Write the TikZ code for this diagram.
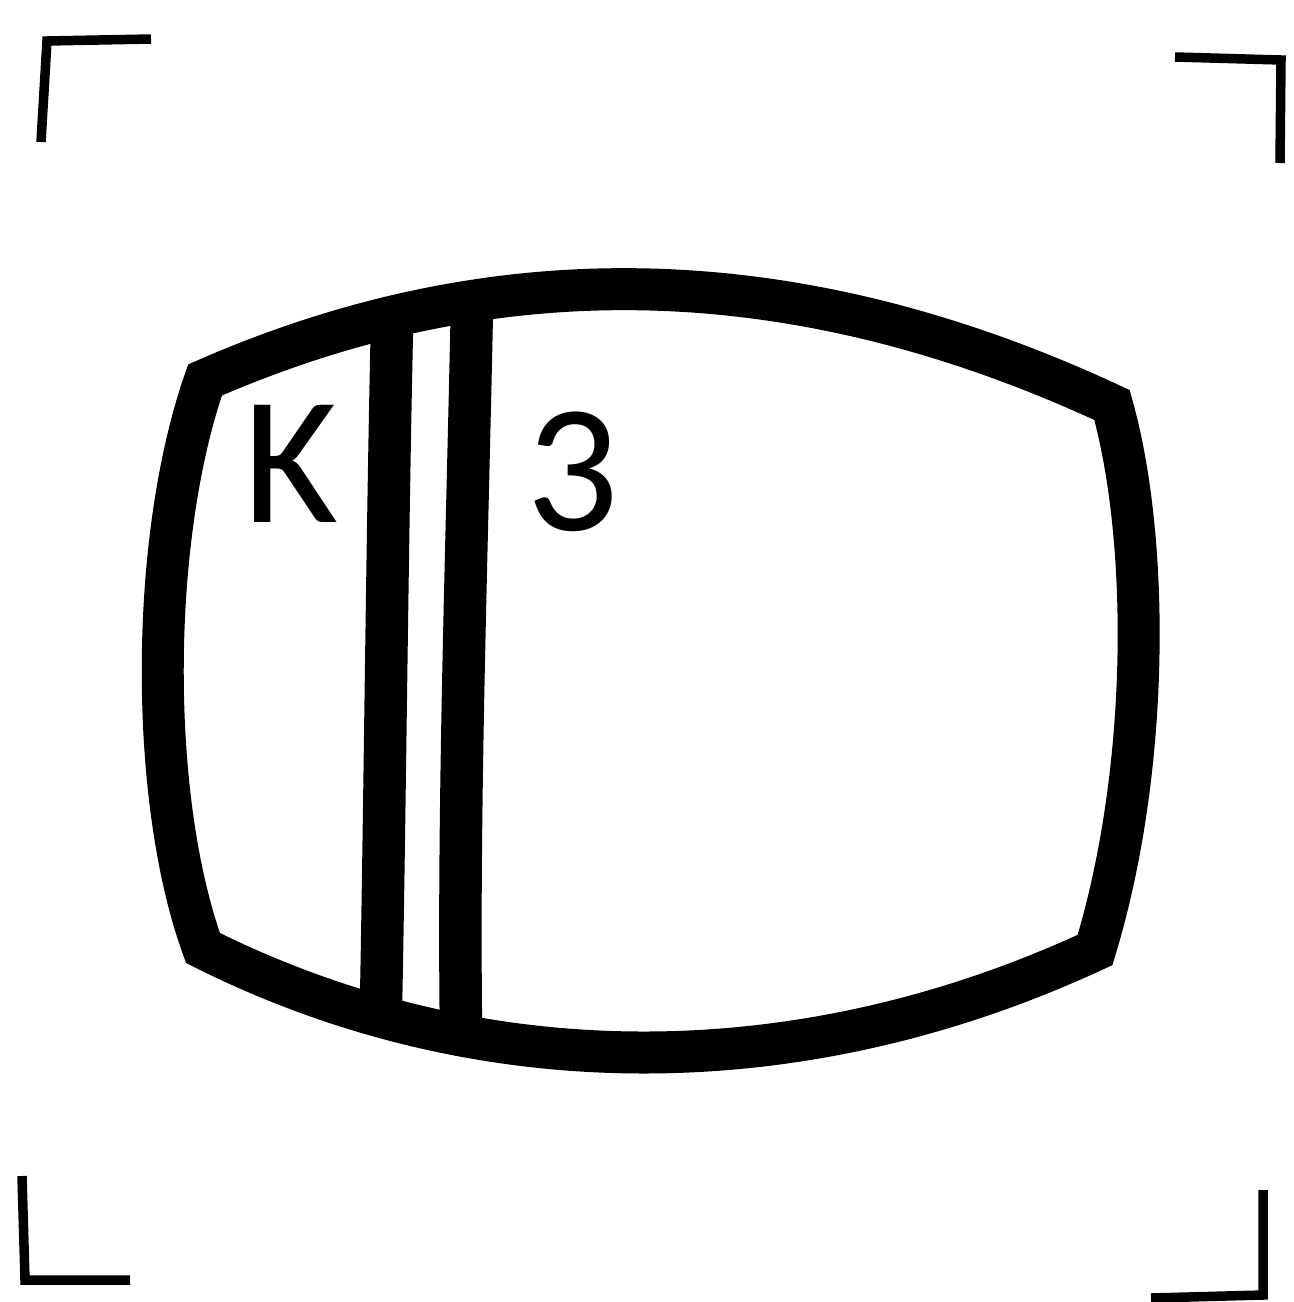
\documentclass[tikz,border=0pt]{standalone}
\usepackage{fontspec}
\setmainfont{Carlito}
\usepackage{tikz}
\begin{document}
\begin{tikzpicture}[x=0.02cm, y=-0.02cm,
        screenline/.style={draw=black, line width=0.84cm, line join=miter},
        barline/.style={draw=black, line width=0.85cm},
        cropmark/.style={draw=black, line width=0.19cm, line join=miter},
        bigletter/.style={inner sep=0pt, text=black, font=\fontsize{104}{104}\selectfont}
    ]
        \useasboundingbox (0,0) rectangle (1294,1302);
        % crop marks
        \draw[cropmark] (41,142) -- (47,41) -- (151,39);
        \draw[cropmark] (1175,57) -- (1281,60) -- (1280,163);
        \draw[cropmark] (22,1176) -- (25,1280) -- (130,1280);
        \draw[cropmark] (1263,1190) -- (1263,1295) -- (1151,1298);
        % bars
        \draw[barline] (392,325) .. controls (387,550) and (385,800) .. (381,1005);
        \draw[barline] (472,305) .. controls (467,550) and (458,800) .. (461,1030);
        % screen
        \draw[screenline] (205,380) .. controls (490,255) and (790,255) .. (1112,405)
            .. controls (1150,540) and (1150,770) .. (1095,950)
            .. controls (800,1087) and (480,1087) .. (203,948)
            .. controls (149,800) and (149,540) .. (205,380) -- cycle;
        \node[bigletter] (letterK) at (291,464) {K};
        \node[bigletter] (letterThree) at (573,472) {3};
    \end{tikzpicture}
\end{document}
